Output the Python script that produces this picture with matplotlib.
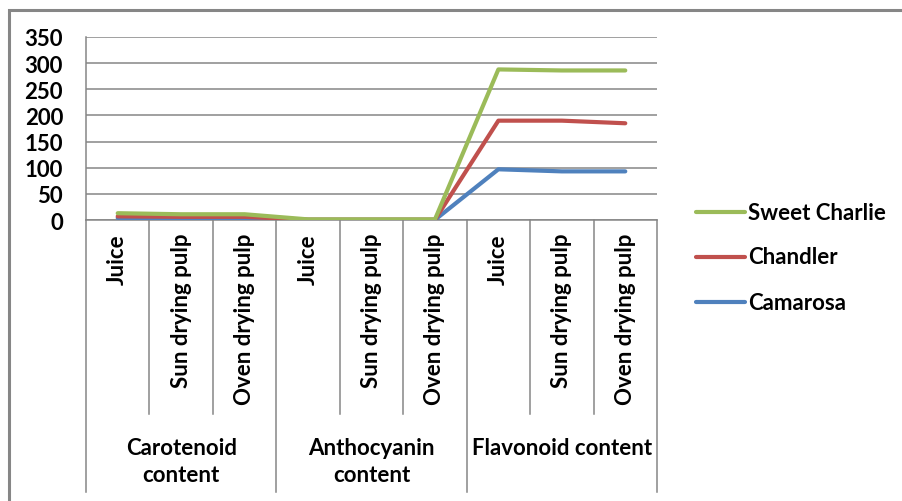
import matplotlib.pyplot as plt
import matplotlib.transforms as mtransforms
from matplotlib.lines import Line2D
from matplotlib.patches import Rectangle

plt.rcParams['font.family'] = ['Lato', 'DejaVu Sans']
plt.rcParams['font.weight'] = 'bold'

# categories on the two-level x axis
groups = ['Carotenoid\ncontent', 'Anthocyanin\ncontent', 'Flavonoid content']
samples = ['Juice', 'Sun drying pulp', 'Oven drying pulp']

# one value per group/sample pair, in axis order
camarosa = [4, 4, 4, 0.3, 0.3, 0.3, 97, 93, 93]
chandler = [7, 6, 6, 0.6, 0.6, 0.6, 190, 190, 185]
sweet_charlie = [13, 11, 11, 1.2, 1.2, 1.2, 288, 286, 286]

series = [('Camarosa', camarosa, '#4F81BD'),
          ('Chandler', chandler, '#C0504D'),
          ('Sweet Charlie', sweet_charlie, '#9BBB59')]

W, H = 903, 502
FS = 16
fig = plt.figure(figsize=(W / 100, H / 100), dpi=100)

def fx(px):
    return px / W

def fy(py):
    return 1 - py / H

# chart frame (only the left and top edges show)
fig.patches.append(Rectangle((fx(9), -0.1), 1.2, fy(11) + 0.1, transform=fig.transFigure,
                             fill=False, edgecolor='#868686', linewidth=2.2))

left, right, top, base = 86, 657, 38, 221
ax = fig.add_axes([fx(left), fy(base), fx(right - left), (base - top) / H])

n = len(camarosa)
xs = [i + 0.5 for i in range(n)]
for name, vals, col in series:
    ax.plot(xs, vals, color=col, linewidth=3.0, solid_capstyle='round',
            solid_joinstyle='round', zorder=3)

ax.set_xlim(0, n)
ax.set_ylim(0, 350)
ax.set_yticks(range(0, 351, 50))
ax.tick_params(axis='y', length=0, labelsize=FS, pad=16.5)
ax.set_xticks([])
ax.grid(axis='y', color='#868686', linewidth=1.1)
for sp in ['top', 'right', 'bottom']:
    ax.spines[sp].set_visible(False)
ax.spines['left'].set_color('#868686')
ax.spines['left'].set_linewidth(1.1)
ax.set_axisbelow(True)
for lbl in ax.get_yticklabels():
    lbl.set_fontweight('bold')

# category axis drawn below the plot: x in data units, y in figure fraction
tr = mtransforms.blended_transform_factory(ax.transData, fig.transFigure)
inner_bottom, outer_bottom = 415, 493
for i in range(n + 1):
    yb = outer_bottom if i % 3 == 0 else inner_bottom
    ax.add_line(Line2D([i, i], [fy(base), fy(yb)], transform=tr, color='#868686',
                       linewidth=1.1, clip_on=False))
ax.add_line(Line2D([0, n], [fy(base), fy(base)], transform=tr, color='#868686',
                   linewidth=1.1, clip_on=False))

for i in range(n):
    ax.text(i + 0.5, fy(234), samples[i % 3], transform=tr, rotation=90,
            ha='center', va='top', fontsize=FS, fontweight='bold')

for g, name in enumerate(groups):
    ax.text(g * 3 + 1.5, fy(438), name, transform=tr, ha='center', va='top',
            fontsize=FS, fontweight='bold', linespacing=1.35)

# legend, top entry first
for k, (name, vals, col) in enumerate(reversed(series)):
    yk = fy(213 + k * 45)
    fig.add_artist(Line2D([fx(696), fx(745)], [yk, yk], transform=fig.transFigure,
                          color=col, linewidth=3.0, solid_capstyle='round'))
    fig.text(fx(748), yk, name, ha='left', va='center', fontsize=FS,
             fontweight='bold')

fig.savefig('out.png', dpi=100)
